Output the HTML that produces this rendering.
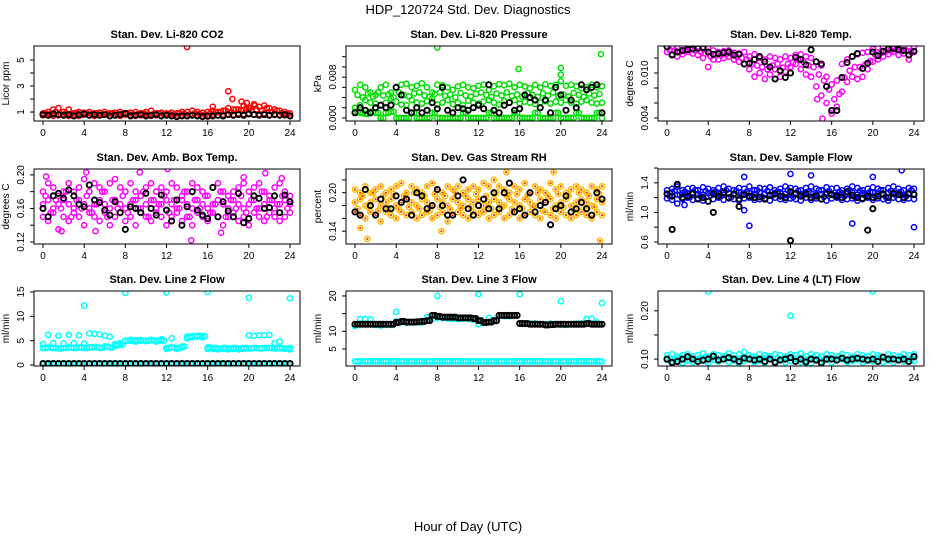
<!DOCTYPE html>
<html><head><meta charset="utf-8">
<style>
html,body{margin:0;padding:0;background:#fff;}
svg{display:block;font-family:"Liberation Sans",Arial,sans-serif;}
</style></head>
<body>
<svg id="chart" width="936" height="540" viewBox="0 0 936 540">
<text x="468" y="14" text-anchor="middle" font-size="13">HDP_120724  Std. Dev. Diagnostics</text>
<text x="468" y="531" text-anchor="middle" font-size="13">Hour of Day (UTC)</text>
</svg>
<script>
const hours = [0,0.5,1,1.5,2,2.5,3,3.5,4,4.5,5,5.5,6,6.5,7,7.5,8,8.5,9,9.5,10,10.5,11,11.5,12,12.5,13,13.5,14,14.5,15,15.5,16,16.5,17,17.5,18,18.5,19,19.5,20,20.5,21,21.5,22,22.5,23,23.5,24];
const hoursOff = [0.25,0.75,1.25,1.75,2.25,2.75,3.25,3.75,4.25,4.75,5.25,5.75,6.25,6.75,7.25,7.75,8.25,8.75,9.25,9.75,10.25,10.75,11.25,11.75,12.25,12.75,13.25,13.75,14.25,14.75,15.25,15.75,16.25,16.75,17.25,17.75,18.25,18.75,19.25,19.75,20.25,20.75,21.25,21.75,22.25,22.75,23.25,23.75];
const xTicks = [0,4,8,12,16,20,24];

const co2Hi = [0.9,1.0,1.2,1.3,1.0,1.2,0.9,1.0,0.95,1.0,0.9,0.95,1.0,0.9,0.95,1.0,0.9,0.95,1.0,0.9,1.0,1.1,0.9,0.95,0.9,0.95,0.9,1.0,1.0,1.1,1.0,0.95,1.0,1.1,1.0,1.1,1.3,1.2,1.2,1.5,1.3,1.6,1.4,1.5,1.3,1.2,1.1,1.0,0.9];
const co2Lo = [0.75,0.8,0.7,0.75,0.8,0.7,0.75,0.7,0.8,0.75,0.7,0.75,0.8,0.7,0.75,0.7,0.8,0.75,0.7,0.75,0.8,0.7,0.75,0.7,0.8,0.75,0.7,0.75,0.7,0.8,0.75,0.7,0.65,0.8,0.75,0.8,0.85,0.8,0.9,0.85,0.9,0.8,0.85,0.9,0.8,0.85,0.8,0.75,0.7];
const co2Q = [0.9,0.85,1.0,0.8,0.9,0.85,0.95,0.8,0.9,0.85,0.9,0.8,0.85,0.9,0.8,0.85,0.9,0.8,0.85,0.9,0.8,0.85,0.9,0.8,0.85,0.8,0.9,0.85,0.8,0.9,0.85,0.8,0.9,0.95,1.0,1.1,1.0,1.2,1.1,1.3,1.1,1.2,1.1,1.3,1.0,1.1,0.9,0.85];
const co2Blk = [0.8,0.75,0.85,0.8,0.75,0.8,0.7,0.8,0.85,0.75,0.8,0.75,0.8,0.7,0.75,0.8,0.9,0.7,0.75,0.8,0.7,0.75,0.8,0.7,0.75,0.7,0.65,0.7,0.7,0.75,0.7,0.65,0.7,0.7,0.75,0.7,0.8,0.75,0.8,0.75,0.85,0.8,0.75,0.8,0.75,0.8,0.75,0.8,0.7];
const co2OutH = [14,16.5,18,18.4,19.3,19.8,20.1,20.6];
const co2OutV = [6.0,1.4,2.6,2.0,1.8,1.7,1.3,1.5];

const pHi = [0.0055,0.0065,0.006,0.005,0.0045,0.006,0.0065,0.005,0.006,0.0065,0.0067,0.006,0.0063,0.0068,0.006,0.005,0.0065,0.0064,0.006,0.0055,0.0062,0.0065,0.006,0.0058,0.0063,0.0065,0.0055,0.0062,0.0066,0.0064,0.0067,0.006,0.0065,0.0062,0.0058,0.0065,0.006,0.0066,0.0063,0.0065,0.0072,0.0063,0.0065,0.0062,0.0058,0.006,0.0065,0.006,0.0062];
const pMid = [0.002,0.0025,0.0035,0.003,0.0028,0.0025,0.003,0.0038,0.0032,0.0026,0.0025,0.0035,0.003,0.0028,0.0033,0.0038,0.0026,0.003,0.0035,0.0027,0.003,0.0025,0.0034,0.003,0.0028,0.0032,0.0035,0.003,0.0026,0.0033,0.003,0.0035,0.0028,0.0032,0.003,0.0027,0.003,0.0033,0.0028,0.0032,0.003,0.0035,0.003,0.0028,0.0032,0.0035,0.003,0.0028,0.003];
const pQ = [0.0045,0.004,0.0048,0.0042,0.005,0.0044,0.0046,0.004,0.005,0.0045,0.0042,0.0048,0.005,0.0044,0.0041,0.0047,0.005,0.0043,0.0046,0.004,0.0049,0.0044,0.0042,0.0047,0.005,0.0045,0.0041,0.0048,0.0044,0.005,0.0043,0.0046,0.0042,0.0049,0.0045,0.0041,0.0048,0.0044,0.005,0.0043,0.0046,0.0042,0.0049,0.0045,0.0041,0.0048,0.0044,0.0047];
const pLo = [0.0012,0.001,0.0008,0.0012,0.001,0.0,0.001,0.0012,0,0,0,0.001,0,0,0,0.001,0,0,0,0,0,0.001,0,0,0,0,0.001,0,0,0,0,0.001,0,0,0,0.001,0,0,0,0.001,0,0,0,0.001,0,0,0,0.001,0];
const pBlk = [0.001,0.002,0.0015,0.001,0.002,0.0025,0.002,0.0025,0.006,0.0045,0.0015,0.001,0.002,0.001,0.0015,0.003,0.0018,0.006,0.0015,0.001,0.002,0.0018,0.0015,0.002,0.0025,0.0018,0.0065,0.0015,0.001,0.0025,0.003,0.0015,0.0018,0.0045,0.004,0.0035,0.002,0.0035,0.001,0.006,0.0045,0.0015,0.0035,0.002,0.0065,0.0055,0.006,0.0065,0.001];
const pOutH = [8,15.9,20,20,23.9];
const pOutV = [0.0138,0.0096,0.0098,0.0085,0.0125];

const tHi = [0.0135,0.0135,0.0133,0.0134,0.0135,0.0133,0.0134,0.0132,0.0133,0.013,0.0128,0.0129,0.013,0.0127,0.0126,0.0128,0.0122,0.0125,0.012,0.0118,0.0122,0.012,0.0118,0.0122,0.012,0.0124,0.0125,0.0122,0.012,0.0115,0.011,0.0095,0.0085,0.009,0.0112,0.0118,0.0122,0.0125,0.0127,0.0128,0.0132,0.0134,0.0135,0.0135,0.0135,0.0134,0.0135,0.0135,0.0135];
const tLo = [0.0128,0.0125,0.0122,0.0125,0.0128,0.0126,0.0124,0.012,0.0108,0.0118,0.0118,0.012,0.0122,0.0118,0.0115,0.0112,0.0105,0.0095,0.01,0.0092,0.0098,0.0105,0.0095,0.0102,0.0108,0.0112,0.0105,0.0098,0.0095,0.0082,0.007,0.006,0.0046,0.0055,0.0075,0.0088,0.0095,0.0092,0.0095,0.0105,0.0115,0.0118,0.0122,0.0125,0.0128,0.0124,0.0126,0.0118,0.0128];
const tQ = [0.0131,0.013,0.0128,0.013,0.0132,0.013,0.0129,0.0126,0.0122,0.0124,0.0124,0.0125,0.0126,0.0122,0.012,0.0118,0.0112,0.011,0.0108,0.0105,0.011,0.0112,0.0107,0.0112,0.0114,0.0118,0.0115,0.011,0.0108,0.0098,0.009,0.0078,0.0065,0.0072,0.0094,0.0103,0.0108,0.0108,0.0111,0.0116,0.0124,0.0126,0.0128,0.013,0.0131,0.0129,0.013,0.0127];
const tBlk = [0.0135,0.0124,0.0128,0.013,0.0131,0.0132,0.0133,0.0134,0.0128,0.0125,0.0126,0.0127,0.0128,0.0124,0.0125,0.0112,0.0113,0.0118,0.0122,0.0115,0.0108,0.0092,0.0103,0.0094,0.01,0.0121,0.0118,0.0111,0.0131,0.0115,0.0112,0.0082,0.005,0.005,0.0094,0.0114,0.0122,0.0126,0.0106,0.0113,0.0128,0.0123,0.0129,0.0132,0.0133,0.0131,0.013,0.0124,0.0129];
const tOutH = [15.1,14.6];
const tOutV = [0.0039,0.0065];

const aHi = [0.18,0.19,0.185,0.175,0.18,0.19,0.18,0.185,0.195,0.18,0.19,0.185,0.18,0.19,0.195,0.185,0.18,0.19,0.18,0.175,0.185,0.19,0.18,0.185,0.18,0.19,0.185,0.175,0.18,0.19,0.185,0.18,0.175,0.185,0.19,0.18,0.175,0.18,0.185,0.19,0.18,0.185,0.19,0.18,0.175,0.185,0.19,0.18,0.175];
const aMid = [0.165,0.17,0.16,0.165,0.17,0.165,0.16,0.17,0.165,0.16,0.165,0.17,0.165,0.16,0.17,0.165,0.16,0.165,0.17,0.16,0.165,0.17,0.16,0.165,0.17,0.165,0.16,0.17,0.165,0.16,0.17,0.165,0.16,0.165,0.17,0.165,0.16,0.17,0.165,0.16,0.165,0.17,0.16,0.165,0.17,0.16,0.165,0.17,0.165];
const aQ = [0.175,0.155,0.17,0.16,0.18,0.15,0.17,0.16,0.175,0.155,0.165,0.18,0.15,0.17,0.16,0.175,0.155,0.17,0.16,0.18,0.15,0.17,0.165,0.175,0.155,0.17,0.16,0.18,0.15,0.17,0.16,0.175,0.155,0.165,0.18,0.15,0.17,0.16,0.175,0.155,0.17,0.16,0.18,0.15,0.17,0.165,0.175,0.16];
const aLo = [0.15,0.145,0.155,0.135,0.15,0.145,0.155,0.15,0.14,0.155,0.15,0.145,0.155,0.14,0.15,0.155,0.145,0.15,0.14,0.155,0.15,0.145,0.155,0.15,0.14,0.15,0.155,0.145,0.15,0.14,0.155,0.15,0.145,0.155,0.15,0.14,0.15,0.155,0.145,0.15,0.14,0.155,0.15,0.145,0.155,0.15,0.145,0.15,0.155];
const aBlk = [0.16,0.15,0.175,0.178,0.172,0.182,0.175,0.165,0.162,0.188,0.17,0.167,0.158,0.152,0.168,0.155,0.135,0.162,0.16,0.155,0.178,0.16,0.152,0.176,0.158,0.145,0.17,0.14,0.162,0.18,0.158,0.152,0.148,0.185,0.15,0.168,0.157,0.15,0.178,0.143,0.148,0.175,0.172,0.16,0.161,0.175,0.155,0.176,0.168];
const aOutH = [0.3,1.8,4.2,5.1,9.4,12.1,14.4,17.3,19.5,21.6,23.2];
const aOutV = [0.198,0.133,0.203,0.133,0.203,0.207,0.122,0.131,0.197,0.202,0.196];

const rHi = [0.205,0.2,0.21,0.2,0.205,0.21,0.2,0.205,0.21,0.215,0.2,0.21,0.205,0.2,0.21,0.215,0.205,0.2,0.21,0.205,0.21,0.2,0.205,0.21,0.205,0.215,0.21,0.22,0.21,0.205,0.2,0.21,0.205,0.215,0.2,0.21,0.205,0.2,0.215,0.205,0.21,0.2,0.205,0.21,0.205,0.2,0.21,0.205,0.21];
const rMid = [0.185,0.19,0.18,0.185,0.19,0.18,0.185,0.19,0.18,0.185,0.19,0.185,0.18,0.19,0.185,0.18,0.19,0.185,0.18,0.19,0.185,0.18,0.19,0.185,0.19,0.18,0.185,0.19,0.185,0.18,0.19,0.185,0.18,0.19,0.185,0.18,0.19,0.185,0.19,0.18,0.185,0.19,0.18,0.185,0.19,0.185,0.18,0.19,0.185];
const rQ = [0.175,0.195,0.178,0.2,0.172,0.195,0.176,0.198,0.174,0.195,0.178,0.2,0.175,0.195,0.172,0.198,0.177,0.195,0.174,0.2,0.176,0.195,0.178,0.198,0.172,0.195,0.175,0.2,0.177,0.195,0.174,0.198,0.176,0.195,0.178,0.2,0.172,0.195,0.175,0.198,0.177,0.195,0.174,0.2,0.176,0.195,0.178,0.198];
const rLo = [0.17,0.165,0.16,0.17,0.165,0.155,0.17,0.165,0.16,0.17,0.165,0.17,0.16,0.165,0.17,0.16,0.165,0.17,0.155,0.165,0.17,0.165,0.16,0.17,0.165,0.17,0.16,0.165,0.17,0.16,0.165,0.17,0.16,0.165,0.17,0.165,0.16,0.17,0.165,0.16,0.17,0.165,0.16,0.165,0.17,0.165,0.16,0.17,0.165];
const rBlk = [0.17,0.165,0.205,0.18,0.165,0.19,0.175,0.175,0.195,0.185,0.19,0.165,0.2,0.195,0.175,0.18,0.205,0.18,0.165,0.165,0.195,0.22,0.175,0.165,0.18,0.19,0.175,0.2,0.175,0.2,0.215,0.17,0.175,0.165,0.2,0.17,0.18,0.185,0.15,0.175,0.18,0.195,0.17,0.175,0.185,0.175,0.165,0.2,0.19];
const rOutH = [0.5,1.2,19.3,23.8,8.4,14.7];
const rOutV = [0.145,0.128,0.232,0.125,0.14,0.232];

const sHi = [1.3,1.32,1.35,1.3,1.32,1.33,1.3,1.34,1.32,1.3,1.33,1.35,1.32,1.3,1.33,1.32,1.35,1.3,1.33,1.32,1.34,1.3,1.32,1.35,1.33,1.32,1.3,1.33,1.35,1.32,1.3,1.34,1.32,1.33,1.3,1.32,1.35,1.33,1.3,1.32,1.34,1.32,1.3,1.33,1.35,1.32,1.3,1.33,1.32];
const sMid = [1.25,1.27,1.24,1.26,1.25,1.27,1.25,1.24,1.26,1.27,1.25,1.24,1.26,1.25,1.27,1.24,1.26,1.25,1.27,1.25,1.24,1.26,1.27,1.25,1.24,1.26,1.25,1.27,1.26,1.24,1.25,1.27,1.25,1.24,1.26,1.25,1.27,1.24,1.26,1.25,1.27,1.25,1.24,1.26,1.25,1.27,1.24,1.26,1.25];
const sQ = [1.22,1.29,1.23,1.28,1.21,1.3,1.22,1.29,1.23,1.28,1.22,1.3,1.21,1.29,1.23,1.28,1.22,1.3,1.21,1.29,1.23,1.28,1.22,1.3,1.21,1.29,1.23,1.28,1.22,1.3,1.21,1.29,1.23,1.28,1.22,1.3,1.21,1.29,1.23,1.28,1.22,1.3,1.21,1.29,1.23,1.28,1.22,1.3];
const sLo = [1.19,1.17,1.12,1.18,1.2,1.17,1.19,1.16,1.15,1.18,1.2,1.17,1.19,1.18,1.16,1.19,1.2,1.17,1.18,1.19,1.16,1.2,1.18,1.17,1.19,1.18,1.16,1.2,1.17,1.19,1.18,1.16,1.19,1.2,1.17,1.18,1.19,1.16,1.18,1.2,1.17,1.19,1.18,1.16,1.2,1.18,1.17,1.19,1.18];
const sBlk = [1.25,1.22,1.38,1.2,1.22,1.25,1.18,1.2,1.15,1.25,1.22,1.27,1.2,1.25,1.18,1.24,1.22,1.2,1.21,1.18,1.23,1.25,1.22,1.2,1.28,1.25,1.22,1.25,1.2,1.22,1.18,1.25,1.24,1.22,1.2,1.28,1.23,1.2,1.19,1.22,1.2,1.22,1.25,1.2,1.26,1.24,1.2,1.25,1.24];
const sOutH = [1.7,7.5,8,18,24,7.5,12,14,20,22.8];
const sOutV = [1.1,1.03,0.82,0.85,0.8,1.48,1.52,1.5,1.48,1.57];
const sBlkOutH = [0.5,4.5,7,12,19.5,20];
const sBlkOutV = [0.77,1.0,1.08,0.62,0.76,1.05];

const l2Main = [3.5,3.6,3.5,3.4,3.5,3.6,3.5,3.6,3.5,3.6,3.7,3.5,3.8,3.6,4.0,4.2,5.0,5.0,5.1,5.0,5.0,5.1,5.0,5.0,3.5,3.6,3.5,3.8,5.8,5.9,6.0,5.9,3.6,3.5,3.4,3.5,3.4,3.5,3.4,3.5,3.4,3.5,3.4,3.5,3.5,3.4,3.5,3.4,3.5];
const l2Up = [4.3,6.2,4.5,6.0,4.4,6.2,4.5,6.1,4.4,6.5,6.4,6.3,6.0,5.8,4.3,4.5,4.9,5.2,4.8,5.1,4.9,5.2,4.8,5.3,3.3,5.5,3.3,3.6,5.5,5.7,5.8,5.7,3.3,3.3,3.2,3.3,3.2,3.3,3.2,3.3,6.1,6.0,6.1,6.1,6.2,4.5,4.8,3.3,3.2];
const l2Zero = [0.3,0.3,0.3,0.3,0.3,0.3,0.3,0.3,0.3,0.3,0.3,0.3,0.3,0.3,0.3,0.3,0.3,0.3,0.3,0.3,0.3,0.3,0.3,0.3,0.3,0.3,0.3,0.3,0.3,0.3,0.3,0.3,0.3,0.3,0.3,0.3,0.3,0.3,0.3,0.3,0.3,0.3,0.3,0.3,0.3,0.3,0.3,0.3,0.3];
const l2Blk = [0.3,0.3,0.3,0.3,0.3,0.3,0.3,0.3,0.3,0.3,0.3,0.3,0.3,0.3,0.3,0.3,0.3,0.3,0.3,0.3,0.3,0.3,0.3,0.3,0.3,0.3,0.3,0.3,0.3,0.3,0.3,0.3,0.3,0.3,0.3,0.3,0.3,0.3,0.3,0.3,0.3,0.3,0.3,0.3,0.3,0.3,0.3,0.3,0.3];
const l2OutH = [4,8,12,16,20,24];
const l2OutV = [12.2,14.8,14.9,15.0,13.8,13.7];

const l3Base = [1.5,1.5,1.5,1.5,1.5,1.5,1.5,1.5,1.5,1.5,1.5,1.5,1.5,1.5,1.5,1.5,1.5,1.5,1.5,1.5,1.5,1.5,1.5,1.5,1.5,1.5,1.5,1.5,1.5,1.5,1.5,1.5,1.5,1.5,1.5,1.5,1.5,1.5,1.5,1.5,1.5,1.5,1.5,1.5,1.5,1.5,1.5,1.5,1.5];
const l3Cy = [11.5,13.5,13.5,13.4,11.8,11.6,11.8,11.8,12.8,12.6,12.4,12.6,12.5,12.5,14,13.5,13.8,13.8,13.6,13.5,13.4,13.5,13.5,13.3,12,12.3,13.8,13.2,14.3,14.3,14.3,14.4,12.2,12.1,12.2,12.3,12,12,12.2,12,12,11.8,12,12.2,12.3,13.5,13.6,12.5,12];
const l3Blk = [12,12,12,12,12,12,12,12,12.5,12.8,12.6,12.6,12.7,12.8,13,14.5,14.2,14,14,14,13.8,13.8,13.8,13.6,13,12.5,12.6,13,14.5,14.5,14.5,14.5,12.2,12.2,12,12,12,11.8,11.9,12,12,12,12,12,12,12.2,12,12,12];
const l3OutH = [4,8,12,16,20,24];
const l3OutV = [15.5,20,20.5,20.5,18.5,18];

const l4Hi = [0.108,0.11,0.105,0.108,0.11,0.106,0.108,0.112,0.105,0.11,0.108,0.106,0.112,0.108,0.11,0.115,0.108,0.105,0.11,0.108,0.106,0.11,0.108,0.105,0.11,0.108,0.112,0.106,0.11,0.108,0.105,0.11,0.108,0.106,0.11,0.108,0.105,0.11,0.108,0.106,0.11,0.108,0.105,0.11,0.108,0.106,0.11,0.108,0.11];
const l4Q = [0.102,0.099,0.104,0.1,0.103,0.098,0.102,0.105,0.1,0.103,0.099,0.104,0.101,0.098,0.103,0.1,0.105,0.099,0.102,0.104,0.1,0.103,0.098,0.102,0.105,0.1,0.103,0.099,0.104,0.101,0.098,0.103,0.1,0.105,0.099,0.102,0.104,0.1,0.103,0.098,0.102,0.105,0.1,0.103,0.099,0.104,0.101,0.1];
const l4Lo = [0.098,0.095,0.1,0.092,0.097,0.094,0.1,0.096,0.093,0.098,0.095,0.1,0.094,0.097,0.09,0.096,0.099,0.094,0.097,0.092,0.1,0.095,0.098,0.093,0.096,0.1,0.094,0.097,0.092,0.099,0.095,0.098,0.093,0.097,0.1,0.094,0.096,0.099,0.093,0.097,0.095,0.1,0.094,0.097,0.093,0.098,0.095,0.1,0.096];
const l4Blk = [0.1,0.093,0.095,0.1,0.105,0.1,0.095,0.098,0.1,0.106,0.098,0.1,0.103,0.1,0.095,0.102,0.1,0.098,0.1,0.095,0.1,0.093,0.098,0.1,0.103,0.095,0.1,0.094,0.1,0.098,0.092,0.1,0.1,0.098,0.102,0.098,0.1,0.102,0.1,0.098,0.1,0.095,0.104,0.1,0.1,0.098,0.1,0.095,0.105];
const l4OutH = [4,12,20];
const l4OutV = [0.24,0.19,0.24];

const SVGNS = "http://www.w3.org/2000/svg";
const svg = document.getElementById('chart');
function mk(tag, attrs, parent){
  const e = document.createElementNS(SVGNS, tag);
  for (const k in attrs) e.setAttribute(k, attrs[k]);
  (parent||svg).appendChild(e);
  return e;
}
const cols = [34,346,658], rows = [46,169,291], W = 266, H = 75;
const panels = [
 {key:'co2', title:'Stan. Dev. Li-820 CO2', ylab:'Licor ppm', c:0,r:0, ymin:0.31, ymax:6.08, yticks:[1,2,3,4,5], ylabels:[1,3,5], fmt:v=>String(v),
  series:[[hours,co2Hi,'#ff0000'],[hours,co2Lo,'#ff0000'],[hoursOff,co2Q,'#ff0000'],[co2OutH,co2OutV,'#ff0000'],[hours,co2Blk,'#000']]},
 {key:'pressure', title:'Stan. Dev. Li-820 Pressure', ylab:'kPa', c:1,r:0, ymin:-0.0006, ymax:0.0141, yticks:[0,0.002,0.004,0.006,0.008,0.01,0.012], ylabels:[0,0.008], fmt:v=>v.toFixed(3),
  series:[[hours,pHi,'#00dd00'],[hours,pMid,'#00dd00'],[hoursOff,pQ,'#00dd00'],[hours,pLo,'#00dd00'],[hoursOff,pLo,'#00dd00'],[pOutH,pOutV,'#00dd00'],[hours,pBlk,'#000']]},
 {key:'temp', title:'Stan. Dev. Li-820 Temp.', ylab:'degrees C', c:2,r:0, ymin:0.0036, ymax:0.0136, yticks:[0.004,0.006,0.008,0.01,0.012], ylabels:[0.004,0.01], fmt:v=>v.toFixed(3),
  series:[[hours,tHi,'#ff00ff'],[hours,tLo,'#ff00ff'],[hoursOff,tQ,'#ff00ff'],[tOutH,tOutV,'#ff00ff'],[hours,tBlk,'#000']]},
 {key:'ambbox', title:'Stan. Dev. Amb. Box Temp.', ylab:'degrees C', c:0,r:1, ymin:0.1176, ymax:0.207, yticks:[0.12,0.14,0.16,0.18,0.2], ylabels:[0.12,0.16,0.2], fmt:v=>v.toFixed(2),
  series:[[hours,aHi,'#ff00ff'],[hours,aMid,'#ff00ff'],[hoursOff,aQ,'#ff00ff'],[hours,aLo,'#ff00ff'],[aOutH,aOutV,'#ff00ff'],[hours,aBlk,'#000']]},
 {key:'rh', title:'Stan. Dev. Gas Stream RH', ylab:'percent', c:1,r:1, ymin:0.12, ymax:0.237, yticks:[0.14,0.16,0.18,0.2,0.22], ylabels:[0.14,0.2], fmt:v=>v.toFixed(2),
  series:[[hours,rHi,'#ffbb00','#ff3300'],[hours,rMid,'#ffbb00','#ff3300'],[hoursOff,rQ,'#ffbb00','#ff3300'],[hours,rLo,'#ffbb00','#ff3300'],[rOutH,rOutV,'#ffbb00','#ff3300'],[hours,rBlk,'#000']]},
 {key:'sampleflow', title:'Stan. Dev. Sample Flow', ylab:'ml/min', c:2,r:1, ymin:0.573, ymax:1.587, yticks:[0.6,0.8,1.0,1.2,1.4,1.6], ylabels:[0.6,1.0,1.4], fmt:v=>v.toFixed(1),
  series:[[hours,sHi,'#0000ff'],[hours,sMid,'#0000ff'],[hoursOff,sQ,'#0000ff'],[hours,sLo,'#0000ff'],[sOutH,sOutV,'#0000ff'],[hours,sBlk,'#000'],[sBlkOutH,sBlkOutV,'#000']]},
 {key:'line2', title:'Stan. Dev. Line 2 Flow', ylab:'ml/min', c:0,r:2, ymin:-0.2, ymax:15.2, yticks:[0,5,10,15], ylabels:[0,5,10,15], fmt:v=>String(v),
  series:[[hours,l2Main,'#00ffff'],[hoursOff,l2Main,'#00ffff'],[hours,l2Up,'#00ffff'],[hours,l2Zero,'#00ffff'],[hoursOff,l2Zero,'#00ffff'],[l2OutH,l2OutV,'#00ffff'],[hours,l2Blk,'#000']]},
 {key:'line3', title:'Stan. Dev. Line 3 Flow', ylab:'ml/min', c:1,r:2, ymin:0.19, ymax:21.4, yticks:[5,10,15,20], ylabels:[5,10,20], fmt:v=>String(v),
  series:[[hours,l3Base,'#00ffff'],[hoursOff,l3Base,'#00ffff'],[hours,l3Cy,'#00ffff'],[l3OutH,l3OutV,'#00ffff'],[hours,l3Blk,'#000'],[hoursOff,l3Blk,'#000']]},
 {key:'line4', title:'Stan. Dev. Line 4 (LT) Flow', ylab:'ml/min', c:2,r:2, ymin:0.0857, ymax:0.241, yticks:[0.1,0.15,0.2], ylabels:[0.1,0.2], fmt:v=>v.toFixed(2),
  series:[[hours,l4Hi,'#00ffff'],[hoursOff,l4Q,'#00ffff'],[hours,l4Lo,'#00ffff'],[l4OutH,l4OutV,'#00ffff'],[hours,l4Blk,'#000']]}
];

panels.forEach(p=>{
  const L = cols[p.c], T = rows[p.r];
  const xs = h => L + 9 + h*(W-19)/24;
  const ys = v => T + H - (v - p.ymin)/(p.ymax - p.ymin)*H;
  const g = mk('g', {});
  
  
  const t = mk('text', {x: L+W/2, y: T-8, 'text-anchor':'middle', 'font-size':11, 'font-weight':'bold'}, g);
  t.textContent = p.title;
  
  
  const yl = mk('text', {x: L-25, y: T+H/2, 'text-anchor':'middle', 'font-size':10, transform:`rotate(-90 ${L-25} ${T+H/2})`}, g);
  yl.textContent = p.ylab;
  
  
  const clip = mk('clipPath', {id:'clip-'+p.key}, g);
  mk('rect', {x:L, y:T, width:W, height:H}, clip);
  const pts = mk('g', {'clip-path':`url(#clip-${p.key})`}, g);
  
  
  p.series.forEach(s=>{
    const hx = s[0], vals = s[1], col = s[2], inner = s[3];
    const black = col === '#000';
    const n = Math.min(hx.length, vals.length);
    for (let i=0;i<n;i++){
      const v = vals[i];
      const c = mk('circle', {cx: xs(hx[i]), cy: ys(v), r: 2.6, fill: 'none', stroke: col, 'stroke-width': black ? 1.9 : 1.5}, pts);
      
      
      if (inner) {
        const d = mk('circle', {cx: xs(hx[i]), cy: ys(v), r: 1.1, fill: inner}, pts);
        
        
      }
    }
  });
  const box = mk('rect', {x:L, y:T, width:W, height:H, fill:'none', stroke:'#000', 'stroke-width':1}, g);
  
  
  xTicks.forEach(h=>{
    mk('line', {x1: xs(h), x2: xs(h), y1: T+H, y2: T+H+4, stroke:'#000'}, g);
    const tl = mk('text', {x: xs(h), y: T+H+15, 'text-anchor':'middle', 'font-size':10}, g);
    tl.textContent = h;
    
    
  });
  p.yticks.forEach(v=>{
    mk('line', {x1: L-4, x2: L, y1: ys(v), y2: ys(v), stroke:'#000'}, g);
  });
  p.ylabels.forEach(v=>{
    const yy = ys(v), xx = L-10;
    const tl = mk('text', {x: xx, y: yy, 'text-anchor':'middle', 'font-size':10, transform:`rotate(-90 ${xx} ${yy})`}, g);
    tl.textContent = p.fmt(v);
    
    
  });
});
</script>
</body></html>
